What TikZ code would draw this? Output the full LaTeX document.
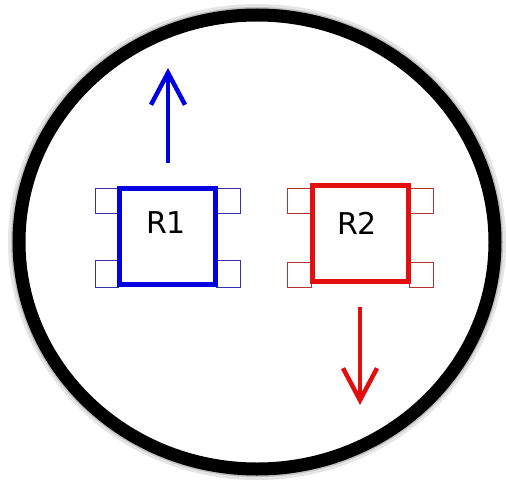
\documentclass[tikz,border=0pt]{standalone}
\usepackage{fontspec}
\setmainfont{DejaVu Sans}
\usetikzlibrary{arrows.meta}
\definecolor{bluebox}{RGB}{0,0,225}
\definecolor{bluepad}{RGB}{50,50,170}
\definecolor{redbox}{RGB}{225,15,15}
\definecolor{redpad}{RGB}{180,50,50}
\begin{document}
\begin{tikzpicture}[x=1pt,y=-1pt,
  chipbox/.style={draw, line width=5pt, minimum width=96pt, minimum height=96pt, inner sep=0pt, fill=white},
  padbox/.style={draw, line width=1pt},
  chiplabel/.style={font=\fontsize{30}{30}\selectfont, text=black, inner sep=0pt},
  movearrow/.style={line width=4.5pt, -{Straight Barb[length=32pt,width=34pt,line width=4.5pt]}}
]
\useasboundingbox (0,0) rectangle (506,484);
\fill[white] (0,0) rectangle (506,484);
% ring with soft outer edge
\draw[gray!20, line width=10pt] (257,242) ellipse [x radius=244, y radius=233];
\draw[gray!50, line width=6pt] (257,242) ellipse [x radius=243, y radius=232];
\draw[black, line width=13pt] (257,242) ellipse [x radius=238, y radius=227];
% pads R1
\draw[padbox, bluepad] (95,188) rectangle (118,213);
\draw[padbox, bluepad] (95,260) rectangle (118,287);
\draw[padbox, bluepad] (216,188) rectangle (240,213);
\draw[padbox, bluepad] (216,260) rectangle (240,287);
% pads R2
\draw[padbox, redpad] (287,188) rectangle (311,213);
\draw[padbox, redpad] (287,262) rectangle (311,287);
\draw[padbox, redpad] (409,188) rectangle (433,213);
\draw[padbox, redpad] (409,262) rectangle (433,287);
% boxes
\node[chipbox, draw=bluebox] (r1) at (167.5,236.5) {};
\node[chipbox, draw=redbox] (r2) at (360.5,233.5) {};
\node[chiplabel] (r1t) at (166,223) {R1};
\node[chiplabel] (r2t) at (357,223) {R2};
% arrows
\coordinate (a1s) at (168,163);
\coordinate (a1e) at (168,68);
\coordinate (a2s) at (360,307);
\coordinate (a2e) at (360,405);
\draw[movearrow, bluebox] (a1s) -- (a1e);
\draw[movearrow, redbox] (a2s) -- (a2e);
\end{tikzpicture}
\end{document}
